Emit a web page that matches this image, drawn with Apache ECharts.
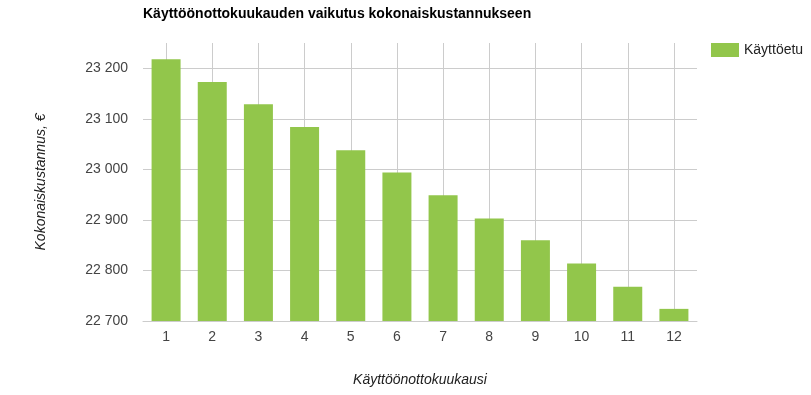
<!DOCTYPE html>
<html><head><meta charset="utf-8">
<script src="https://cdn.jsdelivr.net/npm/echarts@6/dist/echarts.min.js"></script>
<style>html,body{margin:0;padding:0;background:#fff}#c{width:811px;height:395px}</style>
</head><body><div id="c"></div>
<script>
const titleText = 'Käyttöönottokuukauden vaikutus kokonaiskustannukseen';
const seriesName = 'Käyttöetu';
const xName = 'Käyttöönottokuukausi';
const yName = 'Kokonaiskustannus, €';
const categories = ['1','2','3','4','5','6','7','8','9','10','11','12'];
const values = [23218, 23173, 23129, 23084, 23038, 22994, 22949, 22903, 22860, 22814, 22768, 22724];
const yMin = 22700, yMax = 23250, yStep = 50;

const fmt = v => String(v).replace(/\B(?=(\d{3})+(?!\d))/g, ' ');
const chart = echarts.init(document.getElementById('c'));
chart.setOption({
  animation: false,
  textStyle: { fontFamily: 'Liberation Sans, Arial, sans-serif' },
  title: { text: titleText, left: 138, top: 2,
    textStyle: { fontSize: 14, fontWeight: 'bold', color: '#000', fontFamily: 'Liberation Sans, Arial, sans-serif' } },
  legend: { data: [seriesName], left: 711, top: 43, padding: 0, itemWidth: 28, itemHeight: 14, itemGap: 10,
    icon: 'rect', textStyle: { fontSize: 14, color: '#222' } },
  grid: { left: 143, right: 114, top: 43, bottom: 74 },
  xAxis: {
    type: 'category', data: categories,
    name: xName, nameLocation: 'middle', nameGap: 52,
    nameTextStyle: { fontStyle: 'italic', fontSize: 14, color: '#222' },
    axisLine: { lineStyle: { color: '#ccc' } },
    axisTick: { show: false },
    axisLabel: { color: '#444', fontSize: 14, margin: 9 }
  },
  yAxis: {
    type: 'value', min: yMin, max: yMax, interval: yStep,
    name: yName, nameLocation: 'middle', nameGap: 95,
    nameTextStyle: { fontStyle: 'italic', fontSize: 14, color: '#222' },
    axisLine: { show: false }, axisTick: { show: false },
    axisLabel: { color: '#444', fontSize: 14, margin: 15,
      formatter: v => (v % 100 === 0 ? fmt(v) : '') },
    splitLine: { lineStyle: { color: ['#ccc', 'rgba(0,0,0,0)'] } }
  },
  series: [
    { type: 'line', name: '_grid', data: [], z: 1, silent: true,
      markLine: { z: 1, silent: true, symbol: ['none','none'], label: { show: false },
        lineStyle: { color: '#ccc', type: 'solid', width: 1 },
        data: categories.map(c => ({ xAxis: c })) } },
    { type: 'bar', name: seriesName, data: values, barWidth: 29, z: 2,
      itemStyle: { color: '#92c64b' } }
  ]
});
</script></body></html>
